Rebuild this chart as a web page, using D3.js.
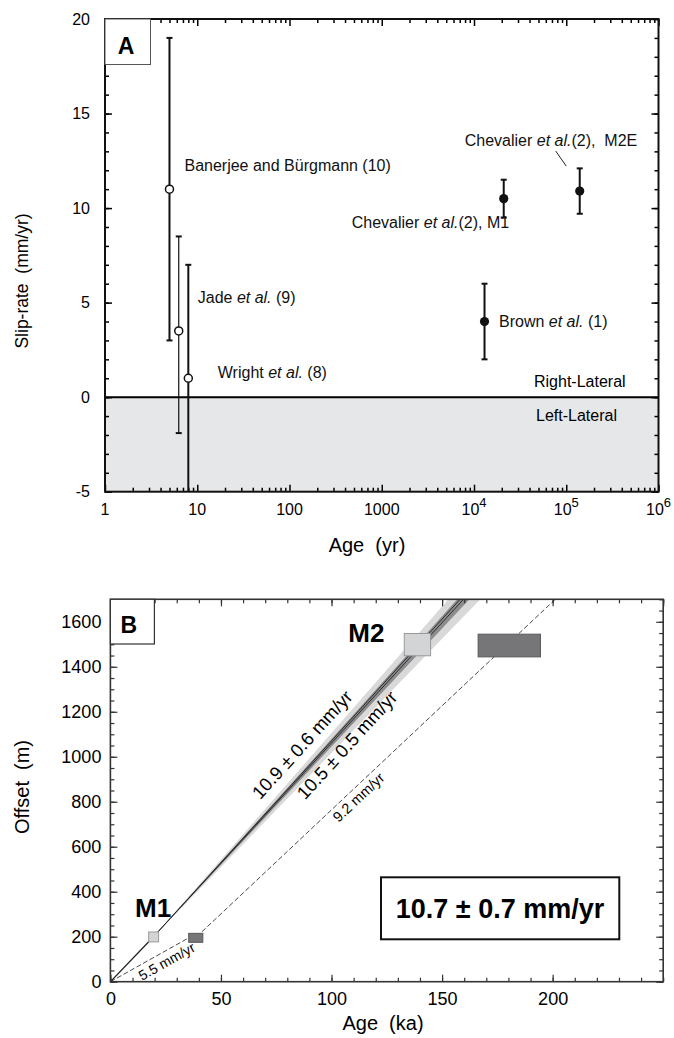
<!DOCTYPE html>
<html><head><meta charset="utf-8">
<script src="https://cdn.jsdelivr.net/npm/d3@7"></script>
<style>
html,body{margin:0;padding:0;background:#fff;}
svg{display:block;font-family:"Liberation Sans",Arial,Helvetica,sans-serif;}
text{white-space:pre;}
</style></head><body>
<svg id="chart" width="674" height="1038"></svg>
<script>
// ---------------- Panel A data ----------------
const studyNames = [
  [["Banerjee and Bürgmann (10)", false]],
  [["Jade ", false], ["et al.", true], [" (9)", false]],
  [["Wright ", false], ["et al.", true], [" (8)", false]],
  [["Brown ", false], ["et al.", true], [" (1)", false]],
  [["Chevalier ", false], ["et al.", true], ["(2), M1", false]],
  [["Chevalier ", false], ["et al.", true], ["(2),  M2E", false]]
];
const studyAges = [5, 6.3, 8, 13000, 21000, 140000];
const studyRates = [11, 3.5, 1, 4, 10.5, 10.9];
const studyRateLow = [3, -1.9, -5, 2, 9.5, 9.7];
const studyRateHigh = [19, 8.5, 7, 6, 11.5, 12.1];
const studyKind = ["geodetic", "geodetic", "geodetic", "geologic", "geologic", "geologic"];
const yTicksA = [-5, 0, 5, 10, 15, 20];
const xTicksA = [1, 10, 100, 1000, 1e4, 1e5, 1e6];
const xTickLabelsA = [["1", ""], ["10", ""], ["100", ""], ["1000", ""], ["10", "4"], ["10", "5"], ["10", "6"]];
const senseLabels = ["Right-Lateral", "Left-Lateral"];

// ---------------- Panel B data ----------------
const boxTerrace = ["M1", "M1", "M2", "M2"];
const boxShade = ["light", "dark", "light", "dark"];
const boxAgeMin = [17.3, 35.4, 132.9, 166.3];
const boxAgeMax = [21.8, 41.8, 144.8, 194.5];
const boxOffMin = [177, 175, 1449, 1444];
const boxOffMax = [221, 215, 1548, 1545];
const bandStart = [19.5, 200];           // age (ka), offset (m)
const bandLightRates = [10.15, 11.25];   // mm/yr
const bandDarkRates = [10.5, 10.92];
const fitRates = [10.82, 10.7];
const dashStarts = [[0, 0], [41.4, 222]];
const dashRates = [5.5, 9.25];
const dashEndAges = [35.4, 215];
const rateLabels = ["10.9 \u00B1 0.6 mm/yr", "10.5 \u00B1 0.5 mm/yr", "9.2 mm/yr", "5.5 mm/yr"];
const summaryLabel = "10.7 \u00B1 0.7 mm/yr";
const yTicksB = d3.range(0, 1601, 200);
const xTicksB = [0, 50, 100, 150, 200];

const svg = d3.select("#chart");

// ================= PANEL A =================
const xA = d3.scaleLog().domain([1, 1e6]).range([105, 658.5]);
const yA = d3.scaleLinear().domain([-5, 20]).range([491.7, 19]);
const gA = svg.append("g");

// left-lateral shading
gA.append("rect").attr("x", xA(1)).attr("y", yA(0)).attr("width", xA(1e6) - xA(1))
  .attr("height", yA(-5) - yA(0)).attr("fill", "#e6e7e8");

// ticks
const minorLogA = [];
for (let e = 0; e < 6; e++) for (let j = 2; j <= 9; j++) minorLogA.push(j * Math.pow(10, e));
function noDomain(g) { g.select(".domain").remove(); }
gA.append("g").attr("transform", `translate(${xA(1)},0)`)
  .call(d3.axisLeft(yA).tickValues(yTicksA).tickSize(-7).tickPadding(15).tickFormat(d => String(d)))
  .call(noDomain).call(g => g.selectAll("text").attr("font-size", 16).attr("fill", "#000").attr("font-family", null))
  .call(g => g.selectAll("line").attr("stroke-width", 1.5));
gA.append("g").attr("transform", `translate(${xA(1)},0)`)
  .call(d3.axisLeft(yA).tickValues(d3.range(-5, 21)).tickSize(-4).tickFormat("")).call(noDomain)
  .call(g => g.selectAll("line").attr("stroke-width", 1.5));
gA.append("g").attr("transform", `translate(${xA(1e6)},0)`)
  .call(d3.axisRight(yA).tickValues(yTicksA).tickSize(-7).tickFormat("")).call(noDomain)
  .call(g => g.selectAll("line").attr("stroke-width", 1.5));
gA.append("g").attr("transform", `translate(${xA(1e6)},0)`)
  .call(d3.axisRight(yA).tickValues(d3.range(-5, 21)).tickSize(-4).tickFormat("")).call(noDomain)
  .call(g => g.selectAll("line").attr("stroke-width", 1.5));
[[yA(-5), d3.axisBottom], [yA(20), d3.axisTop]].forEach(([yy, ax]) => {
  gA.append("g").attr("transform", `translate(0,${yy})`)
    .call(ax(xA).tickValues(xTicksA).tickSize(-7).tickFormat("")).call(noDomain)
    .call(g => g.selectAll("line").attr("stroke-width", 1.5));
  gA.append("g").attr("transform", `translate(0,${yy})`)
    .call(ax(xA).tickValues(minorLogA).tickSize(-4).tickFormat("")).call(noDomain)
    .call(g => g.selectAll("line").attr("stroke-width", 1.5));
});
// x tick labels with superscripts
xTicksA.forEach((v, i) => {
  const t = gA.append("text").attr("x", xA(v)).attr("y", yA(-5) + 23).attr("text-anchor", "middle")
    .attr("font-size", 16);
  t.append("tspan").text(xTickLabelsA[i][0]);
  if (xTickLabelsA[i][1]) t.append("tspan").attr("font-size", 13).attr("dy", -8).text(xTickLabelsA[i][1]);
});

// zero line
gA.append("line").attr("x1", xA(1)).attr("x2", xA(1e6)).attr("y1", yA(0)).attr("y2", yA(0))
  .attr("stroke", "#000").attr("stroke-width", 2);

// frame
gA.append("rect").attr("x", xA(1)).attr("y", yA(20)).attr("width", xA(1e6) - xA(1))
  .attr("height", yA(-5) - yA(20)).attr("fill", "none").attr("stroke", "#111").attr("stroke-width", 2);

// error bars + points
studyAges.forEach((a, i) => {
  const cx = xA(a);
  const sw = i === 1 ? 1.2 : 2;
  gA.append("line").attr("x1", cx).attr("x2", cx).attr("y1", yA(studyRateLow[i])).attr("y2", yA(studyRateHigh[i]))
    .attr("stroke", "#111").attr("stroke-width", sw);
  [studyRateLow[i], studyRateHigh[i]].forEach(v => {
    if (v <= -5) return;
    gA.append("line").attr("x1", cx - 3).attr("x2", cx + 3).attr("y1", yA(v)).attr("y2", yA(v))
      .attr("stroke", "#111").attr("stroke-width", 2);
  });
  if (studyKind[i] === "geodetic") {
    gA.append("circle").attr("cx", cx).attr("cy", yA(studyRates[i])).attr("r", 4)
      .attr("fill", "#fff").attr("stroke", "#111").attr("stroke-width", 1.5);
  } else {
    gA.append("circle").attr("cx", cx).attr("cy", yA(studyRates[i])).attr("r", 4.6).attr("fill", "#111");
  }
});

// study labels (offsets relative to their point)
const labelOffsets = [[15, -24], [19, -34], [29.5, -6], [14.5, 0], [-152, 23.5], [-115, -51]];
studyAges.forEach((a, i) => {
  const t = gA.append("text").attr("x", xA(a) + labelOffsets[i][0]).attr("y", yA(studyRates[i]) + labelOffsets[i][1])
    .attr("dy", "0.35em").attr("font-size", 16).attr("fill", "#111");
  studyNames[i].forEach(([s, it]) => t.append("tspan").attr("font-style", it ? "italic" : null).text(s));
});
// leader for M2E
gA.append("line").attr("x1", xA(studyAges[5]) - 24).attr("y1", yA(studyRates[5]) - 40)
  .attr("x2", xA(studyAges[5]) - 13.5).attr("y2", yA(studyRates[5]) - 25).attr("stroke", "#222").attr("stroke-width", 1);

gA.append("text").attr("x", 534).attr("y", yA(0) - 15.5).attr("dy", "0.35em").attr("font-size", 16).text(senseLabels[0]);
gA.append("text").attr("x", 536).attr("y", yA(0) + 18.5).attr("dy", "0.35em").attr("font-size", 16).text(senseLabels[1]);

// axis titles
gA.append("text").attr("x", 367).attr("y", 552).attr("text-anchor", "middle").attr("font-size", 20).text("Age  (yr)");
gA.append("text").attr("transform", "translate(28,281) rotate(-90)").attr("text-anchor", "middle")
  .attr("font-size", 17.5).text("Slip-rate  (mm/yr)");

// panel letter
gA.append("rect").attr("x", xA(1)).attr("y", yA(20)).attr("width", 45.5).attr("height", 45.5)
  .attr("fill", "#fff").attr("stroke", "#555").attr("stroke-width", 1);
gA.append("text").attr("x", xA(1) + 21).attr("y", 53.5).attr("text-anchor", "middle")
  .attr("font-size", 23).attr("font-weight", "bold").text("A");

// ================= PANEL B =================
const xB = d3.scaleLinear().domain([0, 250]).range([110.4, 663.2]);
const yB = d3.scaleLinear().domain([0, 1700]).range([981.7, 599.3]);
const gB = svg.append("g");
svg.append("defs").append("clipPath").attr("id", "clipB").append("rect")
  .attr("x", xB(0)).attr("y", yB(1700)).attr("width", xB(250) - xB(0)).attr("height", yB(0) - yB(1700));
const plotB = gB.append("g").attr("clip-path", "url(#clipB)");

const topOff = 1800;
function bandPoly(rates) {
  const [a0, o0] = bandStart;
  return [[a0, o0], [a0 + (topOff - o0) / rates[1], topOff], [a0 + (topOff - o0) / rates[0], topOff]]
    .map(([a, o]) => [xB(a), yB(o)]);
}
plotB.append("polygon").attr("points", bandPoly(bandLightRates).join(" ")).attr("fill", "#d9d9da");
plotB.append("polygon").attr("points", bandPoly(bandDarkRates).join(" ")).attr("fill", "#8c8c8e");
plotB.append("line").attr("x1", xB(0)).attr("y1", yB(0)).attr("x2", xB(bandStart[0])).attr("y2", yB(bandStart[1]))
  .attr("stroke", "#222").attr("stroke-width", 1.3);
fitRates.forEach(r => {
  plotB.append("line").attr("x1", xB(bandStart[0])).attr("y1", yB(bandStart[1]))
    .attr("x2", xB(bandStart[0] + (topOff - bandStart[1]) / r)).attr("y2", yB(topOff))
    .attr("stroke", "#222").attr("stroke-width", 0.9);
});
dashRates.forEach((r, i) => {
  const [a0, o0] = dashStarts[i];
  plotB.append("line").attr("x1", xB(a0)).attr("y1", yB(o0))
    .attr("x2", xB(dashEndAges[i])).attr("y2", yB(o0 + r * (dashEndAges[i] - a0)))
    .attr("stroke", "#333").attr("stroke-width", 0.9).attr("stroke-dasharray", "5,2.5");
});
boxAgeMin.forEach((a, i) => {
  plotB.append("rect").attr("x", xB(a)).attr("y", yB(boxOffMax[i]))
    .attr("width", xB(boxAgeMax[i]) - xB(a)).attr("height", yB(boxOffMin[i]) - yB(boxOffMax[i]))
    .attr("fill", boxShade[i] === "light" ? "#d3d4d5" : "#767679")
    .attr("stroke", boxShade[i] === "light" ? "#9a9a9a" : "#5a5a5c").attr("stroke-width", 1);
});

// ticks B
function tickLines(g) { g.selectAll("line").attr("stroke", "#333").attr("stroke-width", 1.2); }
gB.append("g").attr("transform", `translate(${xB(0)},0)`)
  .call(d3.axisLeft(yB).tickValues(yTicksB).tickSize(-7).tickPadding(9).tickFormat(d => String(d)))
  .call(noDomain).call(tickLines)
  .call(g => g.selectAll("text").attr("font-size", 18).attr("fill", "#000").attr("font-family", null));
gB.append("g").attr("transform", `translate(${xB(0)},0)`)
  .call(d3.axisLeft(yB).tickValues(d3.range(0, 1701, 50)).tickSize(-4).tickFormat("")).call(noDomain).call(tickLines);
gB.append("g").attr("transform", `translate(${xB(250)},0)`)
  .call(d3.axisRight(yB).tickValues(yTicksB).tickSize(-7).tickFormat("")).call(noDomain).call(tickLines);
gB.append("g").attr("transform", `translate(${xB(250)},0)`)
  .call(d3.axisRight(yB).tickValues(d3.range(0, 1701, 50)).tickSize(-4).tickFormat("")).call(noDomain).call(tickLines);
gB.append("g").attr("transform", `translate(0,${yB(0)})`)
  .call(d3.axisBottom(xB).tickValues(xTicksB).tickSize(-7).tickPadding(11).tickFormat(d => String(d)))
  .call(noDomain).call(tickLines)
  .call(g => g.selectAll("text").attr("font-size", 18).attr("fill", "#000").attr("font-family", null));
gB.append("g").attr("transform", `translate(0,${yB(0)})`)
  .call(d3.axisBottom(xB).tickValues(d3.range(0, 251, 10)).tickSize(-4).tickFormat("")).call(noDomain).call(tickLines);
gB.append("g").attr("transform", `translate(0,${yB(1700)})`)
  .call(d3.axisTop(xB).tickValues([0, 50, 100, 150, 200, 250]).tickSize(-7).tickFormat("")).call(noDomain).call(tickLines);
gB.append("g").attr("transform", `translate(0,${yB(1700)})`)
  .call(d3.axisTop(xB).tickValues(d3.range(0, 251, 10)).tickSize(-4).tickFormat("")).call(noDomain).call(tickLines);

gB.append("rect").attr("x", xB(0)).attr("y", yB(1700)).attr("width", xB(250) - xB(0))
  .attr("height", yB(0) - yB(1700)).attr("fill", "none").attr("stroke", "#333").attr("stroke-width", 1.6);

// rotated rate labels along their lines
function alongLabel(txt, a0, o0, rate, age, perp, size) {
  const px = xB(age), py = yB(o0 + rate * (age - a0));
  const ang = Math.atan2(yB(o0 + rate * 10) - yB(o0), xB(a0 + 10) - xB(a0)) * 180 / Math.PI;
  gB.append("text").attr("transform", `translate(${px},${py}) rotate(${ang}) translate(0,${-perp})`)
    .attr("text-anchor", "middle").attr("dy", "0.35em").attr("font-size", size).attr("fill", "#000").text(txt);
}
alongLabel(rateLabels[0], bandStart[0], bandStart[1], 10.8, 93.2, 19.5, 18.5);
alongLabel(rateLabels[1], bandStart[0], bandStart[1], 10.8, 102.3, -14, 18.5);
alongLabel(rateLabels[2], dashStarts[1][0], dashStarts[1][1], dashRates[1], 109.3, -9.3, 14.5);
alongLabel(rateLabels[3], dashStarts[0][0], dashStarts[0][1], dashRates[0], 23.3, -9.8, 14);

// terrace labels
gB.append("text").attr("x", 135).attr("y", 916.7).attr("font-size", 26).attr("font-weight", "bold").text(boxTerrace[0]);
gB.append("text").attr("x", 348.3).attr("y", 641.7).attr("font-size", 26).attr("font-weight", "bold").text(boxTerrace[2]);

// summary box
gB.append("rect").attr("x", 381).attr("y", 877.3).attr("width", 238.3).attr("height", 62)
  .attr("fill", "#fff").attr("stroke", "#111").attr("stroke-width", 2);
gB.append("text").attr("x", 500).attr("y", 908.3).attr("dy", "0.35em").attr("text-anchor", "middle")
  .attr("font-size", 27).attr("font-weight", "bold").text(summaryLabel);

// panel letter B
gB.append("rect").attr("x", xB(0)).attr("y", yB(1700)).attr("width", 44).attr("height", 44.7)
  .attr("fill", "#fff").attr("stroke", "#333").attr("stroke-width", 1.2);
gB.append("text").attr("x", 128.7).attr("y", 632.7).attr("text-anchor", "middle")
  .attr("font-size", 23).attr("font-weight", "bold").text("B");

// axis titles B
gB.append("text").attr("x", 383).attr("y", 1030).attr("text-anchor", "middle").attr("font-size", 20).text("Age  (ka)");
gB.append("text").attr("transform", "translate(29,787) rotate(-90)").attr("text-anchor", "middle")
  .attr("font-size", 20).text("Offset  (m)");
</script>
</body></html>
